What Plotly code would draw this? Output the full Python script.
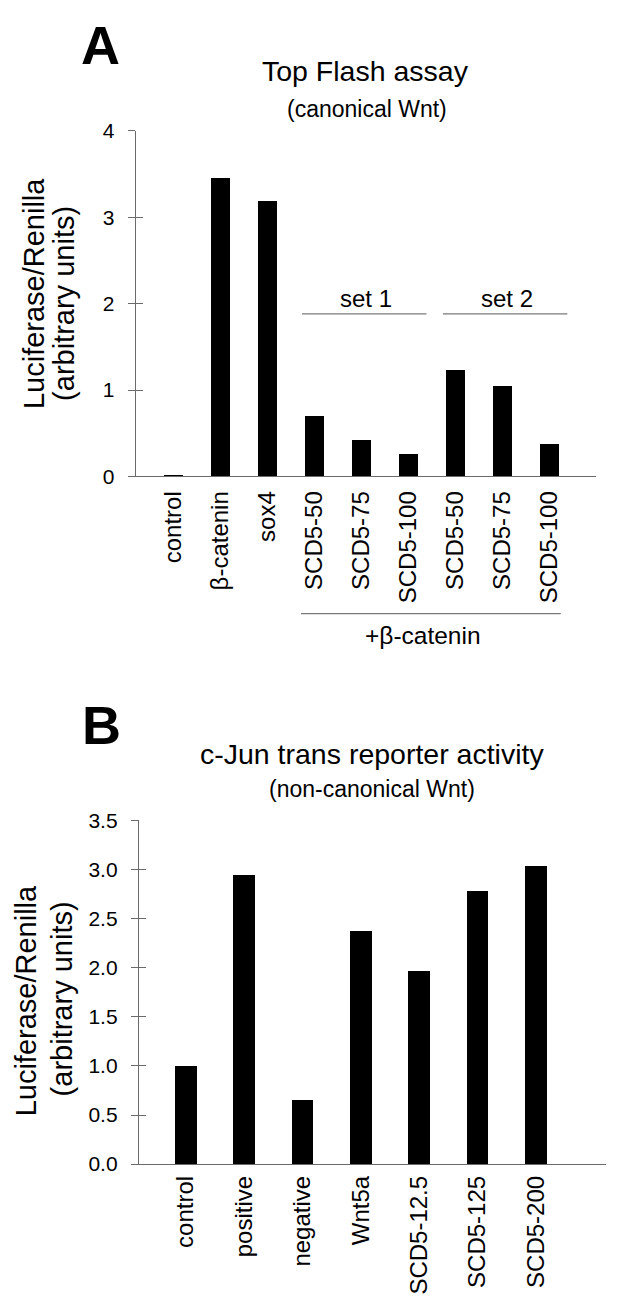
import plotly.graph_objects as go

# ---------------- data ----------------
cats_a = ["control", "β-catenin", "sox4", "SCD5-50", "SCD5-75", "SCD5-100",
          "SCD5-50", "SCD5-75", "SCD5-100"]
vals_a = [0.01, 3.46, 3.19, 0.70, 0.43, 0.26, 1.23, 1.05, 0.375]
yticks_a = [0, 1, 2, 3, 4]

cats_b = ["control", "positive", "negative", "Wnt5a", "SCD5-12.5", "SCD5-125", "SCD5-200"]
vals_b = [1.00, 2.94, 0.647, 2.37, 1.963, 2.773, 3.03]
yticks_b = [0.0, 0.5, 1.0, 1.5, 2.0, 2.5, 3.0, 3.5]

set_groups = [("set 1", 3, 5), ("set 2", 6, 8)]   # label, first idx, last idx
set_level = 1.88
catenin_group = ("+β-catenin", 3, 8)

W, H = 642, 1302
FONT = "Liberation Sans, Arial, sans-serif"
AXC = "#6a6a6a"


def px(x):
    return x / W


def py(y):
    return 1 - y / H


xa = list(range(len(cats_a)))
xb = list(range(len(cats_b)))

fig = go.Figure()
fig.add_trace(go.Bar(x=xa, y=vals_a, width=0.4, marker=dict(color="black", line=dict(width=0)),
                     xaxis="x", yaxis="y", showlegend=False, hoverinfo="skip"))
fig.add_trace(go.Bar(x=xb, y=vals_b, width=0.37, marker=dict(color="black", line=dict(width=0)),
                     xaxis="x2", yaxis="y2", showlegend=False, hoverinfo="skip"))
# empty traces so the overlay axes (inner tick halves) are drawn
fig.add_trace(go.Scatter(x=[], y=[], xaxis="x", yaxis="y3", showlegend=False))
fig.add_trace(go.Scatter(x=[], y=[], xaxis="x2", yaxis="y4", showlegend=False))

dom_ax = [px(127.7), px(588.0)]
dom_ay = [py(464.7), py(112.7)]
dom_bx = [px(131.0), px(598.0)]
dom_by = [py(1164.7), py(814.7)]

xcommon = dict(showgrid=False, zeroline=False, showline=True, linecolor=AXC, linewidth=1.3,
               ticks="", tickangle=-90, tickfont=dict(size=24, color="black", family=FONT))
ycommon = dict(showgrid=False, zeroline=False, showline=True, linecolor=AXC, linewidth=1.3,
               ticks="outside", ticklen=7, tickcolor=AXC, tickwidth=1.3,
               tickfont=dict(size=21, color="black", family=FONT), ticklabelstandoff=9)
yinner = dict(showgrid=False, zeroline=False, showline=False, ticks="inside", ticklen=7,
              tickcolor=AXC, tickwidth=1.3, showticklabels=False)

fig.update_layout(
    width=W, height=H, margin=dict(l=0, r=0, t=0, b=0),
    paper_bgcolor="white", plot_bgcolor="white",
    font=dict(family=FONT, color="black"),
    bargap=0,
    xaxis=dict(xcommon, domain=dom_ax, anchor="y", range=[-0.8, 9.0],
               tickvals=xa, ticktext=cats_a, ticklabelstandoff=4),
    yaxis=dict(ycommon, domain=dom_ay, anchor="x", range=[0, 4], tickvals=yticks_a,
               ticktext=[str(v) for v in yticks_a]),
    yaxis3=dict(yinner, overlaying="y", anchor="x", range=[0, 4], tickvals=yticks_a),
    xaxis2=dict(xcommon, domain=dom_bx, anchor="y2", range=[-0.8, 7.2],
                tickvals=xb, ticktext=cats_b, ticklabelstandoff=1),
    yaxis2=dict(ycommon, domain=dom_by, anchor="x2", range=[0, 3.5], tickvals=yticks_b,
                ticktext=[f"{v:.1f}" for v in yticks_b]),
    yaxis4=dict(yinner, overlaying="y2", anchor="x2", range=[0, 3.5], tickvals=yticks_b),
)

ann = []
shapes = []

# panel letters
ann.append(dict(text="<b>A</b>", x=px(93), y=py(25), xref="paper", yref="paper",
                showarrow=False, font=dict(size=54, family=FONT), xanchor="center", yanchor="middle"))
ann.append(dict(text="<b>B</b>", x=px(94), y=py(718), xref="paper", yref="paper",
                showarrow=False, font=dict(size=54, family=FONT), xanchor="center", yanchor="middle"))

# titles
ann.append(dict(text="Top Flash assay", x=px(358), y=py(52), xref="paper", yref="paper",
                showarrow=False, font=dict(size=28.5, family=FONT), xanchor="center", yanchor="middle"))
ann.append(dict(text="(canonical Wnt)", x=px(359), y=py(91), xref="paper", yref="paper",
                showarrow=False, font=dict(size=23, family=FONT), xanchor="center", yanchor="middle"))
ann.append(dict(text="c-Jun trans reporter activity", x=px(364), y=py(747), xref="paper", yref="paper",
                showarrow=False, font=dict(size=28.5, family=FONT), xanchor="center", yanchor="middle"))
ann.append(dict(text="(non-canonical Wnt)", x=px(364), y=py(783), xref="paper", yref="paper",
                showarrow=False, font=dict(size=23, family=FONT), xanchor="center", yanchor="middle"))

# y-axis titles (two lines each)
for (x1, y1, x2, y2) in [(26, 279, 56, 289), (18, 999, 54, 997)]:
    ann.append(dict(text="Luciferase/Renilla", x=px(x1), y=py(y1), xref="paper", yref="paper",
                    showarrow=False, textangle=-90, font=dict(size=29, family=FONT),
                    xanchor="center", yanchor="middle"))
    ann.append(dict(text="(arbitrary units)", x=px(x2), y=py(y2), xref="paper", yref="paper",
                    showarrow=False, textangle=-90, font=dict(size=29, family=FONT),
                    xanchor="center", yanchor="middle"))

# set brackets
for label, i0, i1 in set_groups:
    x0, x1 = i0 - 0.26, i1 + 0.39
    shapes.append(dict(type="line", xref="x", yref="y", x0=x0, x1=x1, y0=set_level, y1=set_level,
                       line=dict(color="#7a7a7a", width=1.3)))
    ann.append(dict(text=label, x=(x0 + x1) / 2 + 0.03, y=2.06, xref="x", yref="y",
                    showarrow=False, font=dict(size=24, family=FONT), xanchor="center", yanchor="middle"))

# +beta-catenin bracket
lab, j0, j1 = catenin_group
shapes.append(dict(type="line", xref="x", yref="paper", x0=j0 - 0.28, x1=j1 + 0.25,
                   y0=py(604.3), y1=py(604.3), line=dict(color="#7a7a7a", width=1.3)))
ann.append(dict(text=lab, x=(j0 + j1) / 2 - 0.19, y=py(627), xref="x", yref="paper",
                showarrow=False, font=dict(size=24.5, family=FONT), xanchor="center", yanchor="middle"))

fig.update_layout(annotations=ann, shapes=shapes)
fig.write_html("out.html")
